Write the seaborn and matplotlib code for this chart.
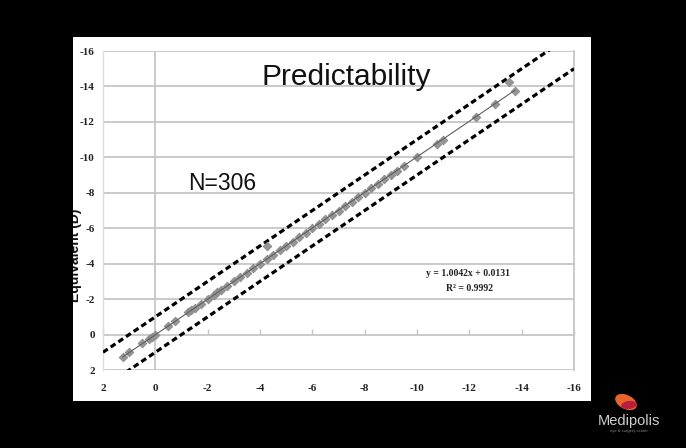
import matplotlib
matplotlib.use("Agg")
import matplotlib.pyplot as plt
import seaborn as sns
import numpy as np
from matplotlib.patches import Rectangle, Ellipse

# ---------------- data ----------------
x_ticks = [2, 0, -2, -4, -6, -8, -10, -12, -14, -16]
y_ticks = [2, 0, -2, -4, -6, -8, -10, -12, -14, -16]
tick_labels = ["2", "0", "-2", "-4", "-6", "-8", "-10", "-12", "-14", "-16"]

attempted = [1.25, 1.0, 0.5, 0.25, 0.125, 0.0, -0.5, -0.75, -1.25, -1.375, -1.5, -1.75,
             -2.0, -2.25, -2.375, -2.5, -2.75, -3.0, -3.25, -3.5, -3.75, -4.0, -4.25,
             -4.25, -4.5, -4.75, -5.0, -5.25, -5.5, -5.75, -6.0, -6.25, -6.5, -6.75,
             -7.0, -7.25, -7.5, -7.75, -8.0, -8.25, -8.5, -8.75, -9.0, -9.25, -9.5,
             -10.0, -10.75, -11.0, -12.25, -13.0, -13.5, -13.75]
achieved = [1.25, 1.0, 0.5, 0.25, 0.125, 0.0, -0.5, -0.75, -1.25, -1.375, -1.5, -1.75,
            -2.0, -2.25, -2.375, -2.5, -2.75, -3.0, -3.25, -3.5, -3.75, -4.0, -4.25,
            -5.0, -4.5, -4.75, -5.0, -5.25, -5.5, -5.75, -6.0, -6.25, -6.5, -6.75,
            -7.0, -7.25, -7.5, -7.75, -8.0, -8.25, -8.5, -8.75, -9.0, -9.25, -9.5,
            -10.0, -10.75, -11.0, -12.25, -13.0, -14.25, -13.75]

slope = 1.0042
intercept = 0.0131
band = 1.0
r2 = 0.9992
n_eyes = 306

# ---------------- figure ----------------
sns.set_theme(style="white")
W, H = 686, 448
fig = plt.figure(figsize=(W / 100, H / 100), dpi=100, facecolor="black")


def fx(px):
    return px / W


def fy(py):
    return 1 - py / H


white = Rectangle((fx(73), fy(401)), fx(591) - fx(73), fy(37) - fy(401),
                  transform=fig.transFigure, facecolor="white", edgecolor="none", zorder=-5)
fig.patches.append(white)

ax = fig.add_axes([fx(103), fy(370), fx(574) - fx(103), fy(51) - fy(370)])
ax.set_zorder(2)
ax.set_facecolor("white")
ax.set_xlim(2, -16)
ax.set_ylim(2, -16)

gridc = "#c6c6c6"
ax.set_xticks(x_ticks)
ax.set_yticks(y_ticks)
ax.set_xticklabels(tick_labels)
ax.set_yticklabels(tick_labels)
for lab in ax.get_xticklabels() + ax.get_yticklabels():
    lab.set_fontfamily(["Liberation Serif", "DejaVu Serif"])
    lab.set_fontweight("bold")
    lab.set_fontsize(8)
    lab.set_color("#222222")
ax.tick_params(axis="x", length=0, pad=10)
ax.tick_params(axis="y", length=0, pad=6)
ax.yaxis.grid(True, color=gridc, lw=1.3)
ax.xaxis.grid(False)
ax.axvline(0, color=gridc, lw=1.3, zorder=0.5)
for s in ["top", "bottom"]:
    ax.spines[s].set_visible(False)
ax.spines["left"].set_color("#dddddd")
ax.spines["left"].set_linewidth(1.0)
ax.spines["right"].set_color(gridc)
ax.spines["right"].set_linewidth(1.3)

# x axis crossing at y = 0 with small tick marks
sec = ax.secondary_xaxis(2 / 18)
sec.set_xticks(x_ticks)
sec.tick_params(direction="in", length=4, width=1, color=gridc, labelbottom=False, labeltop=False)
sec.spines["bottom"].set_visible(False)
sec.spines["top"].set_visible(False)

# tolerance band (dashed)
bx = np.array([ax.get_xlim()[0], ax.get_xlim()[1]])
ax.plot(bx, bx - band, color="black", lw=2.3, linestyle=(0, (1.8, 1.1)),
        dash_capstyle="butt", zorder=3)
ax.plot(bx, bx + band, color="black", lw=2.3, linestyle=(0, (1.8, 1.1)),
        dash_capstyle="butt", zorder=3)

# data points
sns.scatterplot(x=attempted, y=achieved, marker="D", s=20, color="#959595",
                edgecolor="#858585", linewidth=0.5, ax=ax, zorder=4, legend=False)

# trendline
tx = np.array([max(attempted), min(attempted)])
ax.plot(tx, slope * tx + intercept, color="#5e5e5e", lw=0.8, zorder=5)
ax.set_xlabel("")
ax.set_ylabel("")

# texts
sans = ["Liberation Sans", "DejaVu Sans"]
fig.text(fx(262), fy(85), "Predictability", family=sans, fontsize=21.5,
         color="#111111", ha="left", va="baseline")
fig.text(fx(188), fy(190), f"N={n_eyes}", family=sans, fontsize=16.5,
         color="#111111", ha="left", va="baseline")
fig.text(fx(468), fy(273), f"y = {slope}x + {intercept}",
         family=["Liberation Serif", "DejaVu Serif"], weight="bold", fontsize=7,
         color="#222222", ha="center", va="center")
fig.text(fx(470), fy(288), f"R\u00b2 = {r2}",
         family=["Liberation Serif", "DejaVu Serif"], weight="bold", fontsize=7,
         color="#222222", ha="center", va="center")

yl = fig.text(fx(75), fy(255), "Equivalent (D)", rotation=90, family=sans,
              weight="bold", fontsize=10, color="#111111", ha="center", va="center")
yl.set_clip_path(white)

# logo
fig.patches.append(Ellipse((fx(626), fy(402)), fx(18), 18 / H, angle=35,
                           transform=fig.transFigure, facecolor="#e8642a", edgecolor="none"))
fig.patches.append(Ellipse((fx(629), fy(405)), fx(16), 8 / H, angle=20,
                           transform=fig.transFigure, facecolor="#b81f3c", edgecolor="none"))
fig.text(fx(629), fy(421), "Medipolis", family=sans,
         fontsize=10.5, color="#cfcfcf", ha="center", va="center")
fig.text(fx(629), fy(431), "eye & surgery center", family=sans,
         fontsize=3, color="#8a8a8a", ha="center", va="center")

fig.savefig("out.png", dpi=100, facecolor="black")
